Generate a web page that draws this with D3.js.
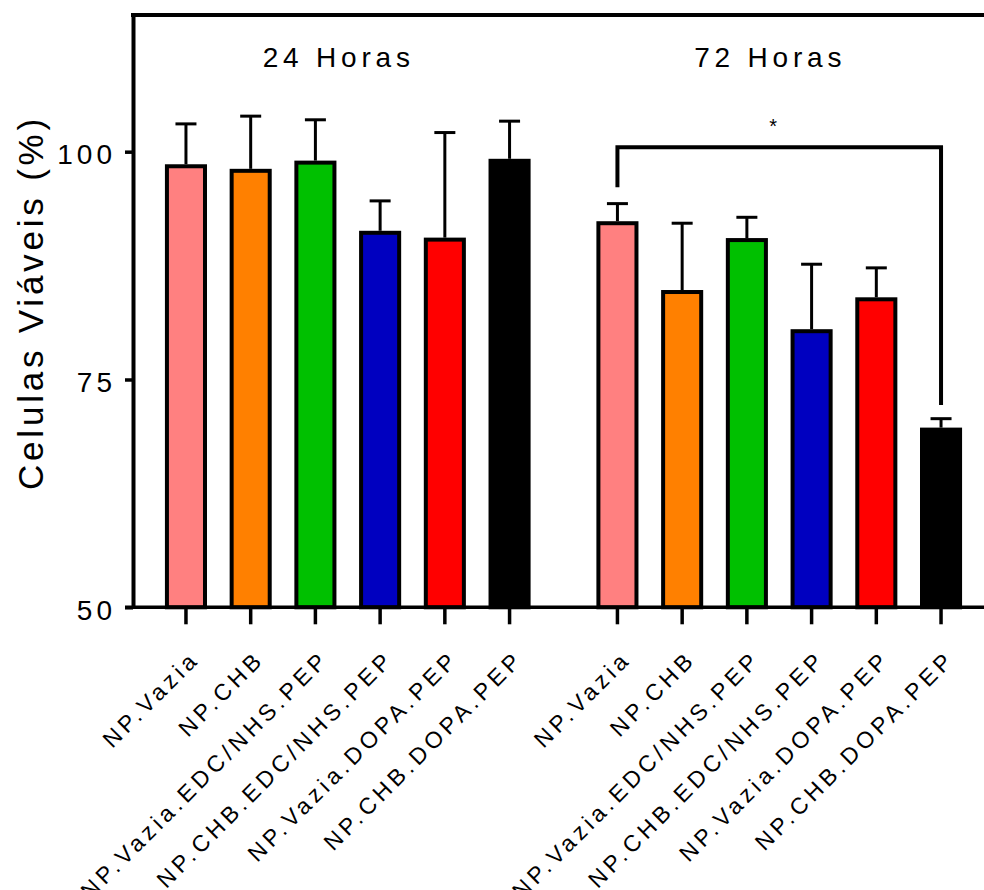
<!DOCTYPE html>
<html>
<head>
<meta charset="utf-8">
<script src="https://cdn.jsdelivr.net/npm/d3@7"></script>
<style>
  html, body { margin: 0; padding: 0; background: #fff; }
  svg { display: block; font-family: "Liberation Sans", Arial, sans-serif; }
</style>
</head>
<body>
<svg id="chart" width="984" height="890"></svg>
<script>
// data
const groups = ['24 Horas', '72 Horas'];
const samples = ['NP.Vazia', 'NP.CHB', 'NP.Vazia.EDC/NHS.PEP', 'NP.CHB.EDC/NHS.PEP', 'NP.Vazia.DOPA.PEP', 'NP.CHB.DOPA.PEP'];
const colors = ['#FF8080', '#FF8000', '#00C000', '#0000C0', '#FF0000', '#000000'];
const means24 = [98.4, 97.9, 98.8, 91.1, 90.35, 99.0];
const sd24 = [4.65, 6.0, 4.7, 3.5, 11.75, 4.35];
const means72 = [92.15, 84.6, 90.3, 80.3, 83.8, 69.5];
const sd72 = [2.15, 7.55, 2.5, 7.35, 3.45, 1.2];
const yTicks = [50, 75, 100];
// significance bracket (72 h: NP.Vazia vs NP.CHB.DOPA.PEP)
const bracket = { group: '72 Horas', from: 'NP.Vazia', to: 'NP.CHB.DOPA.PEP', top: 100.5, leftEnd: 96.1, rightEnd: 72.2, label: '*' };

const svg = d3.select('#chart');
const width = 984;
const axisX = 133;

const y = d3.scaleLinear().domain([50, 115]).range([607.3, 15]);

const x0 = d3.scaleBand()
    .domain(groups)
    .range([153.6, 973.4])
    .paddingInner(0.1);

const x1 = d3.scaleBand()
    .domain(samples)
    .range([0, x0.bandwidth()])
    .paddingInner(0.35)
    .paddingOuter(0.175);

const rows = [];
groups.forEach((g, gi) => {
    const m = gi === 0 ? means24 : means72;
    const s = gi === 0 ? sd24 : sd72;
    samples.forEach((name, i) => {
        rows.push({ group: g, name: name, mean: m[i], sd: s[i], color: colors[i] });
    });
});

const cx = d => x0(d.group) + x1(d.name) + x1.bandwidth() / 2;

// bars
svg.append('g').selectAll('rect')
    .data(rows)
    .join('rect')
    .attr('x', d => x0(d.group) + x1(d.name) + 2)
    .attr('width', x1.bandwidth() - 4)
    .attr('y', d => y(d.mean))
    .attr('height', d => y(50) - y(d.mean))
    .attr('fill', d => d.color)
    .attr('stroke', '#000')
    .attr('stroke-width', 4);

// error bars (upper only)
const err = svg.append('g').attr('stroke', '#000').attr('stroke-width', 3);
err.selectAll('line.stem')
    .data(rows)
    .join('line')
    .attr('class', 'stem')
    .attr('x1', cx).attr('x2', cx)
    .attr('y1', d => y(d.mean) - 2)
    .attr('y2', d => y(d.mean + d.sd));
err.selectAll('line.cap')
    .data(rows)
    .join('line')
    .attr('class', 'cap')
    .attr('x1', d => cx(d) - 10.5).attr('x2', d => cx(d) + 10.5)
    .attr('y1', d => y(d.mean + d.sd))
    .attr('y2', d => y(d.mean + d.sd));

// y axis
const yAxis = svg.append('g')
    .attr('transform', `translate(${axisX},0)`)
    .call(d3.axisLeft(y).tickValues(yTicks).tickSize(8).tickSizeOuter(0).tickPadding(9));
yAxis.select('.domain').attr('stroke-width', 4);
yAxis.selectAll('.tick line').attr('stroke-width', 3.5);
yAxis.selectAll('.tick text')
    .attr('font-size', 28)
    .attr('letter-spacing', 4)
    .attr('fill', '#000')
    .attr('dy', '0.42em')
    .attr('font-family', '"Liberation Sans", Arial, sans-serif');

// top frame line
svg.append('line')
    .attr('x1', axisX - 2).attr('x2', width + 5)
    .attr('y1', y(115)).attr('y2', y(115))
    .attr('stroke', '#000').attr('stroke-width', 4);

// x axis baseline
svg.append('line')
    .attr('x1', axisX - 8).attr('x2', width + 5)
    .attr('y1', y(50)).attr('y2', y(50))
    .attr('stroke', '#000').attr('stroke-width', 3.5);

// x axes per group
groups.forEach(g => {
    const ax = svg.append('g')
        .attr('transform', `translate(${x0(g)},${y(50)})`)
        .call(d3.axisBottom(x1).tickSize(17).tickSizeOuter(0));
    ax.select('.domain').remove();
    ax.selectAll('.tick line').attr('stroke-width', 3.5);
    ax.selectAll('.tick text')
        .attr('font-size', 23)
        .attr('letter-spacing', 4.3)
        .attr('fill', '#000')
        .attr('font-family', '"Liberation Sans", Arial, sans-serif')
        .attr('text-anchor', 'end')
        .attr('x', 0).attr('y', 0).attr('dy', 0)
        .attr('transform', 'translate(15,53) rotate(-45)');
});

// group titles
svg.append('g').selectAll('text')
    .data(groups)
    .join('text')
    .attr('x', d => x0(d) + x0.bandwidth() / 2 - 9)
    .attr('y', 66.5)
    .attr('text-anchor', 'middle')
    .attr('font-size', 28)
    .attr('letter-spacing', 4.8)
    .text(d => d);

// y label
svg.append('text')
    .attr('transform', 'translate(42.5,302.5) rotate(-90)')
    .attr('text-anchor', 'middle')
    .attr('font-size', 35)
    .attr('letter-spacing', 3.8)
    .text('Celulas Viáveis (%)');

// significance bracket
const bx1 = x0(bracket.group) + x1(bracket.from) + x1.bandwidth() / 2;
const bx2 = x0(bracket.group) + x1(bracket.to) + x1.bandwidth() / 2;
svg.append('path')
    .attr('d', `M${bx1},${y(bracket.leftEnd)}V${y(bracket.top)}H${bx2}V${y(bracket.rightEnd)}`)
    .attr('fill', 'none')
    .attr('stroke', '#000')
    .attr('stroke-width', 4);
svg.append('text')
    .attr('x', (bx1 + bx2) / 2 - 6)
    .attr('y', y(bracket.top) - 14)
    .attr('text-anchor', 'middle')
    .attr('font-size', 20)
    .text(bracket.label);
</script>
</body>
</html>
